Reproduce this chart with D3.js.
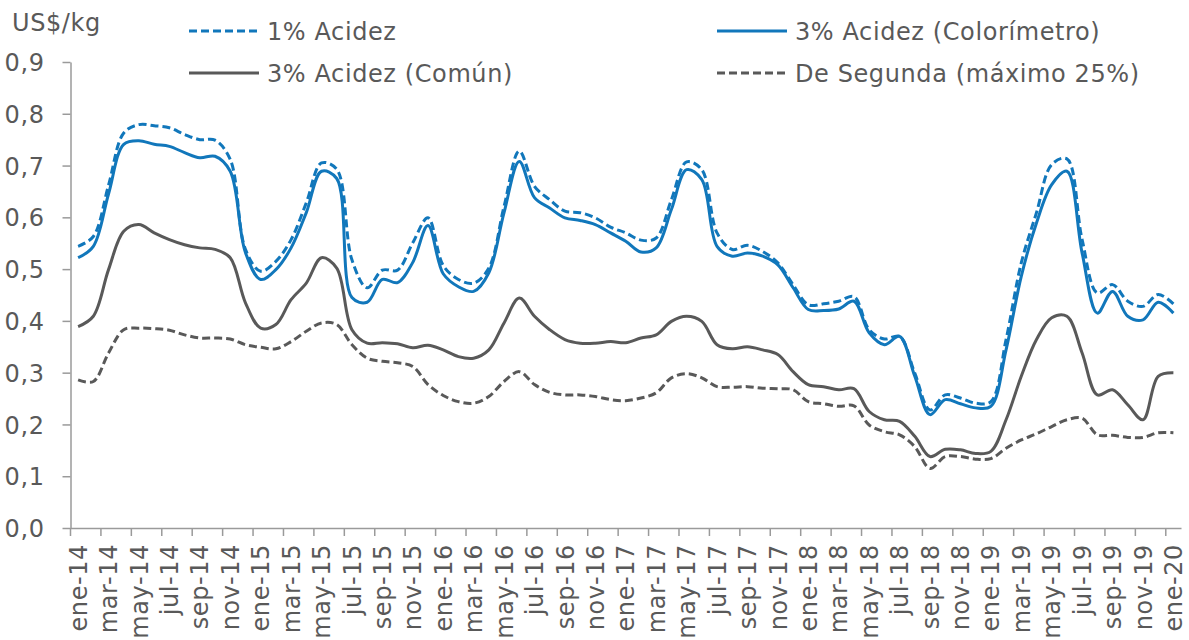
<!DOCTYPE html>
<html>
<head>
<meta charset="utf-8">
<script src="https://cdn.jsdelivr.net/npm/d3@7"></script>
<style>
  html, body { margin: 0; padding: 0; background: #fff; }
  svg { display: block; }
  text { font-family: "DejaVu Sans", Lato, sans-serif; fill: #595959; letter-spacing: 0.6px; }
</style>
</head>
<body>
<svg id="chart" width="1189" height="640"></svg>
<script>
const monthNames = ["ene","feb","mar","abr","may","jun","jul","ago","sep","oct","nov","dic"];
const months = [];
for (let yr = 14; yr <= 20; yr++) {
  for (let m = 0; m < 12; m++) {
    if (yr === 20 && m > 0) break;
    months.push(monthNames[m] + "-" + yr);
  }
}
const yTicks = [0, 0.1, 0.2, 0.3, 0.4, 0.5, 0.6, 0.7, 0.8, 0.9];
const seriesNames = ["1% Acidez", "3% Acidez (Colorímetro)", "3% Acidez (Común)", "De Segunda (máximo 25%)"];

const acidez1 = [0.544,0.563,0.662,0.763,0.779,0.777,0.773,0.760,0.750,0.749,0.712,0.538,
  0.496,0.515,0.557,0.628,0.705,0.693,0.518,0.464,0.498,0.498,0.551,0.599,
  0.507,0.480,0.473,0.502,0.621,0.728,0.660,0.634,0.612,0.609,0.599,0.581,
  0.570,0.556,0.560,0.634,0.707,0.692,0.570,0.538,0.546,0.534,0.512,0.470,
  0.431,0.433,0.438,0.447,0.383,0.365,0.370,0.299,0.228,0.257,0.251,0.241,
  0.244,0.364,0.512,0.609,0.702,0.713,0.557,0.454,0.470,0.438,0.428,0.451,0.433];
const colorimetro = [0.522,0.544,0.645,0.741,0.748,0.741,0.737,0.725,0.715,0.718,0.689,0.532,
  0.480,0.499,0.541,0.609,0.689,0.675,0.445,0.436,0.480,0.474,0.513,0.584,
  0.491,0.466,0.457,0.493,0.609,0.708,0.638,0.618,0.599,0.594,0.586,0.570,
  0.554,0.533,0.541,0.615,0.692,0.673,0.544,0.525,0.531,0.525,0.508,0.464,
  0.422,0.420,0.423,0.438,0.377,0.354,0.370,0.293,0.219,0.248,0.240,0.232,
  0.235,0.344,0.486,0.589,0.663,0.689,0.531,0.415,0.457,0.409,0.402,0.436,0.415];
const comun = [0.389,0.409,0.499,0.573,0.586,0.570,0.557,0.547,0.541,0.538,0.522,0.435,
  0.386,0.393,0.441,0.473,0.522,0.502,0.383,0.357,0.358,0.356,0.348,0.353,
  0.344,0.331,0.328,0.344,0.396,0.444,0.409,0.383,0.364,0.357,0.357,0.360,
  0.358,0.367,0.373,0.399,0.409,0.399,0.354,0.346,0.350,0.344,0.335,0.302,
  0.277,0.273,0.267,0.269,0.225,0.209,0.206,0.177,0.138,0.152,0.151,0.144,
  0.148,0.209,0.293,0.364,0.406,0.409,0.338,0.257,0.267,0.238,0.209,0.293,0.300];
const segunda = [0.286,0.283,0.338,0.383,0.386,0.385,0.382,0.373,0.367,0.367,0.365,0.354,
  0.349,0.346,0.360,0.380,0.396,0.393,0.354,0.328,0.322,0.319,0.312,0.277,
  0.256,0.244,0.241,0.254,0.283,0.302,0.277,0.262,0.257,0.257,0.254,0.248,
  0.246,0.251,0.261,0.290,0.298,0.290,0.273,0.272,0.273,0.270,0.269,0.267,
  0.244,0.240,0.235,0.236,0.199,0.186,0.180,0.157,0.115,0.138,0.138,0.133,
  0.134,0.154,0.170,0.182,0.196,0.209,0.212,0.180,0.179,0.175,0.175,0.184,0.184];

const BLUE = "#1177BB", GRAY = "#595959", AXIS = "#9a9a9a";
const FS = "24px";
const styles = [
  { color: BLUE, dash: "8,4" },
  { color: BLUE, dash: null },
  { color: GRAY, dash: null },
  { color: GRAY, dash: "8,4" }
];
const seriesData = [acidez1, colorimetro, comun, segunda];

const svg = d3.select("#chart");
const plotLeft = 70.5, plotRight = 1181, plotTop = 62, plotBottom = 528;

const x = d3.scaleBand().domain(months).range([plotLeft, plotRight]).padding(0);
const bw = x.bandwidth();
const y = d3.scaleLinear().domain([0, 0.9]).range([plotBottom, plotTop]);

// Y axis
const yAxis = d3.axisLeft(y).tickValues(yTicks).tickSize(8).tickSizeOuter(0).tickPadding(18)
  .tickFormat(d => d.toFixed(1).replace(".", ","));
const gy = svg.append("g").attr("transform", `translate(${plotLeft},0)`).call(yAxis);
gy.select(".domain").attr("stroke", AXIS).attr("stroke-width", 1.5);
gy.selectAll(".tick line").attr("stroke", AXIS).attr("stroke-width", 1.5);
gy.selectAll(".tick text").style("font-size", FS).attr("fill", GRAY).attr("dy", "0.36em");

// X axis
const tickMonths = months.filter((m, i) => i % 2 === 0);
const xAxis = d3.axisBottom(x).tickValues(tickMonths).tickSize(8).tickSizeOuter(0);
const gx = svg.append("g").attr("transform", `translate(0,${plotBottom})`).call(xAxis);
gx.select(".domain").attr("stroke", AXIS).attr("stroke-width", 1.5);
gx.selectAll(".tick").attr("transform", d => `translate(${x(d)},0)`);
gx.selectAll(".tick line").attr("stroke", AXIS).attr("stroke-width", 1.5);
gx.selectAll(".tick text")
  .attr("x", 0).attr("y", 0).attr("dy", "0.36em")
  .attr("transform", `translate(${bw / 2},16) rotate(-90)`)
  .style("text-anchor", "end").style("font-size", FS).attr("fill", GRAY);
svg.selectAll("g").attr("font-family", null);

// Lines
const line = d3.line()
  .x((d, i) => x(months[i]) + bw / 2)
  .y(d => y(d))
  .curve(d3.curveCatmullRom.alpha(0.5));

const drawOrder = [3, 2, 0, 1];
drawOrder.forEach(k => {
  svg.append("path")
    .datum(seriesData[k])
    .attr("fill", "none")
    .attr("stroke", styles[k].color)
    .attr("stroke-width", 3)
    .attr("stroke-dasharray", styles[k].dash)
    .attr("d", line);
});

// Unit label
svg.append("text").attr("x", 12).attr("y", 31).text("US$/kg").style("font-size", FS);

// Legend
const legendPos = [
  { x: 189, y: 31 }, { x: 717, y: 31 },
  { x: 189, y: 73 }, { x: 717, y: 73 }
];
seriesNames.forEach((name, k) => {
  const g = svg.append("g").attr("transform", `translate(${legendPos[k].x},${legendPos[k].y})`);
  g.append("line").attr("x1", 0).attr("x2", 70).attr("y1", 0).attr("y2", 0)
    .attr("stroke", styles[k].color).attr("stroke-width", 3)
    .attr("stroke-dasharray", styles[k].dash);
  g.append("text").attr("x", 78).attr("y", 0).attr("dy", "0.36em")
    .style("font-size", FS).text(name);
});
</script>
</body>
</html>
